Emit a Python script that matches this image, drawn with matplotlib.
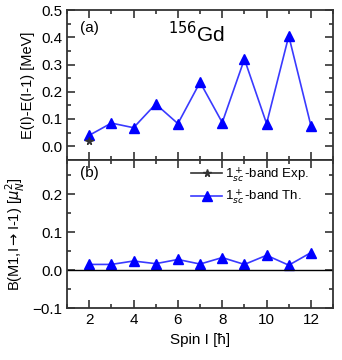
import matplotlib.pyplot as plt
from matplotlib.ticker import MultipleLocator

plt.rcParams['font.family'] = ['Liberation Sans', 'DejaVu Sans']

# spin values
spin = [2, 3, 4, 5, 6, 7, 8, 9, 10, 11, 12]

# E(I)-E(I-1) theory and experiment
de_th = [0.040, 0.085, 0.068, 0.155, 0.083, 0.235, 0.087, 0.320, 0.083, 0.405, 0.075]
spin_exp = [2]
de_exp = [0.020]

# B(M1) theory
bm1_th = [0.015, 0.015, 0.024, 0.017, 0.028, 0.016, 0.033, 0.015, 0.039, 0.013, 0.046]

fig = plt.figure(figsize=(3.42, 3.6), dpi=100)
ax1 = fig.add_axes([0.196, 0.556, 0.778, 0.416])
ax2 = fig.add_axes([0.196, 0.144, 0.778, 0.412])

line_blue = '#3a3aff'

ax1.plot(spin, de_th, color=line_blue, lw=1.2, marker='^', ms=6.5, mfc='blue', mec='blue')
ax1.plot(spin_exp, de_exp, ls='none', marker='*', ms=5.5, color='#333333')
ax1.set_xlim(1, 13)
ax1.set_ylim(-0.05, 0.5)
ax1.set_ylabel('E(I)-E(I-1) [MeV]', fontsize=10.5)
ax1.text(0.05, 0.93, '(a)', transform=ax1.transAxes, fontsize=11, va='top')
ax1.text(0.38, 0.84, r'$^{156}$Gd', transform=ax1.transAxes, fontsize=15, va='center')
ax1.yaxis.set_major_locator(MultipleLocator(0.1))
ax1.yaxis.set_minor_locator(MultipleLocator(0.05))
ax1.tick_params(labelbottom=False)

ax2.plot([], [], color='#333333', lw=1.2, marker='*', ms=5.5, label=r'1$^+_{sc}$-band Exp.')
ax2.plot(spin, bm1_th, color=line_blue, lw=1.2, marker='^', ms=6.5, mfc='blue', mec='blue',
         label=r'1$^+_{sc}$-band Th.')
ax2.axhline(0, color='black', lw=1)
ax2.set_xlim(1, 13)
ax2.set_ylim(-0.1, 0.29)
ax2.set_ylabel(r'B(M1,I$\rightarrow$I-1) [$\mu_N^2$]', fontsize=10.5)
ax2.set_xlabel('Spin I [ħ]', fontsize=11)
ax2.text(0.05, 0.96, '(b)', transform=ax2.transAxes, fontsize=11, va='top')
ax2.yaxis.set_major_locator(MultipleLocator(0.1))
ax2.yaxis.set_minor_locator(MultipleLocator(0.05))
ax2.legend(loc='upper right', bbox_to_anchor=(0.94, 1.02), frameon=False, fontsize=9.5,
           handlelength=2.4, borderaxespad=0.2, labelspacing=0.3, handletextpad=0.2)

for ax in (ax1, ax2):
    ax.xaxis.set_major_locator(MultipleLocator(2))
    ax.xaxis.set_minor_locator(MultipleLocator(1))
    ax.tick_params(which='both', direction='in', top=True, right=True, labelsize=11,
                   width=1.2, color='#333333')
    ax.tick_params(which='major', length=6)
    ax.tick_params(which='minor', length=3)
    for s in ax.spines.values():
        s.set_linewidth(1.3)
        s.set_color('#333333')

fig.savefig('out.png', dpi=100)
